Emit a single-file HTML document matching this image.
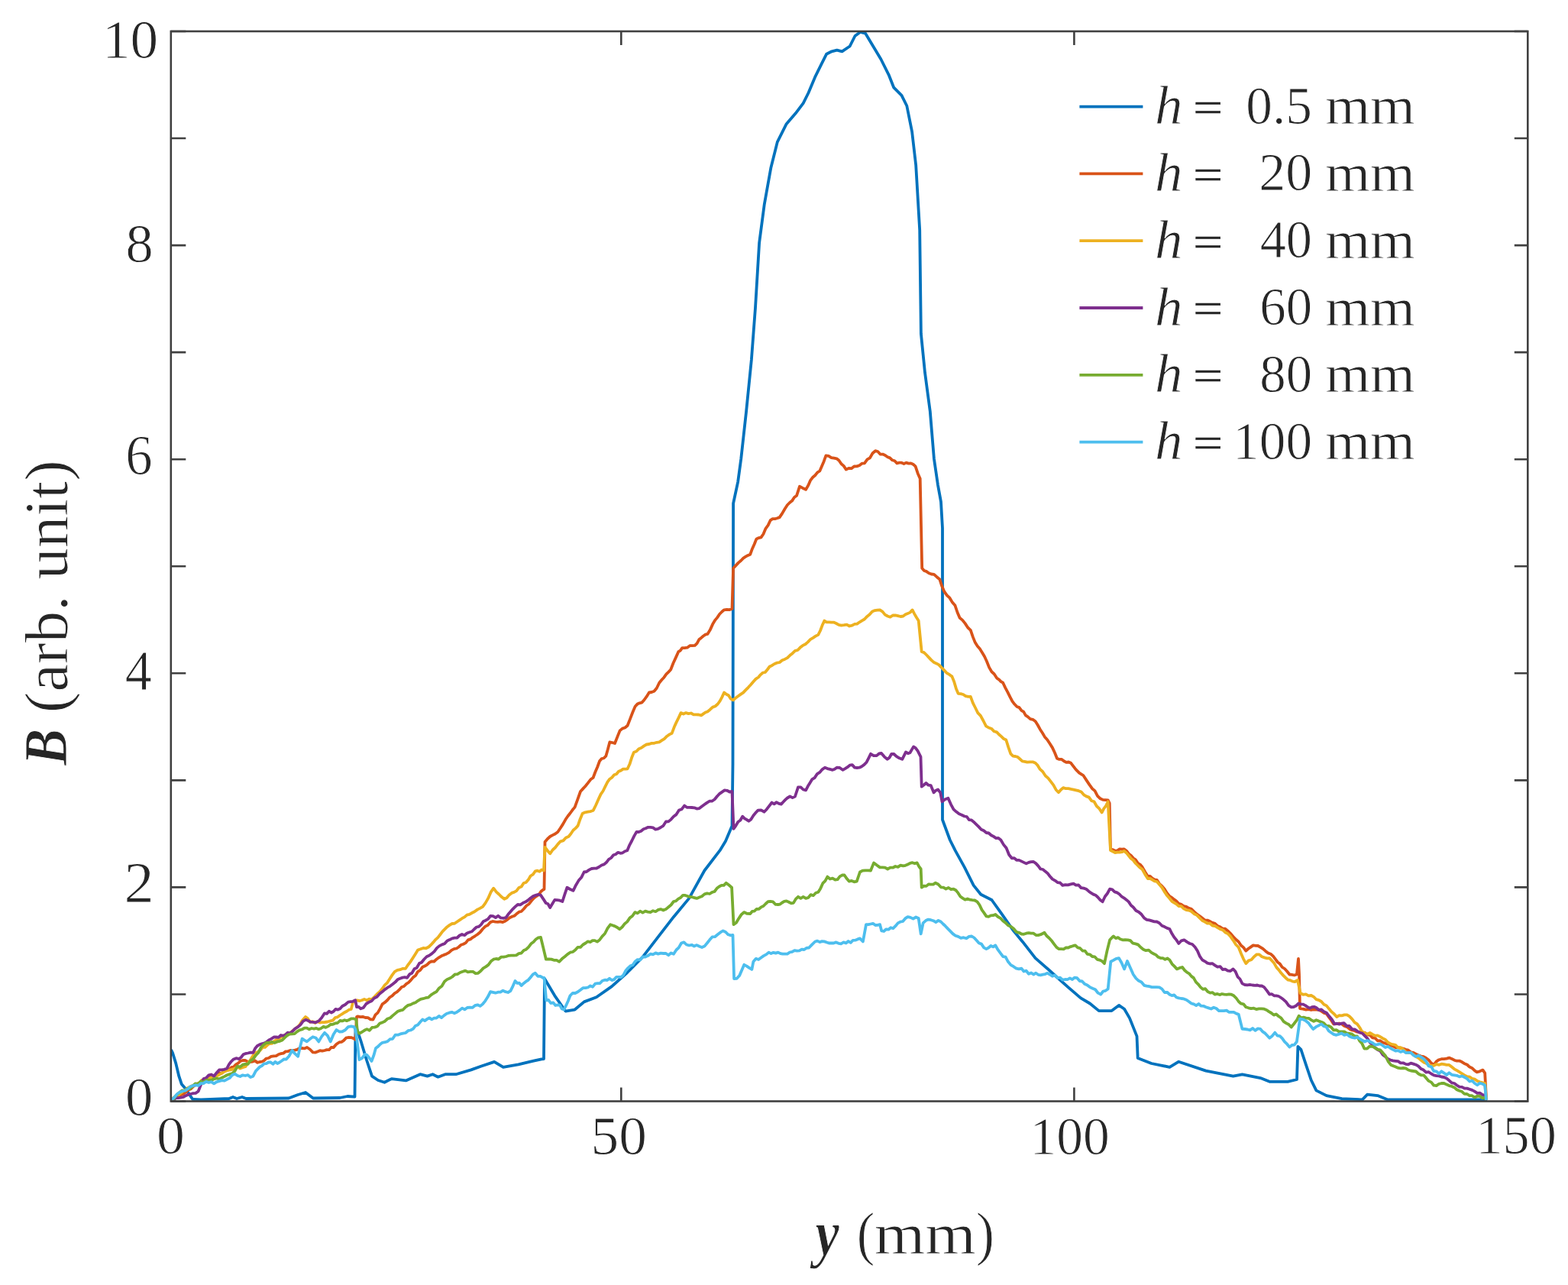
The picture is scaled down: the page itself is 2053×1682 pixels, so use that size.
<!DOCTYPE html>
<html><head><meta charset="utf-8"><style>html,body{margin:0;padding:0;background:#fff;overflow:hidden}svg{display:block}</style></head>
<body><svg width="2053" height="1682" viewBox="0 0 2053 1682">
<defs><clipPath id="cp"><rect x="223.8" y="39.0" width="1776.5" height="1402.5"/></clipPath></defs>
<rect width="2053" height="1682" fill="#fff"/>
<g clip-path="url(#cp)"><path d="M224.0,1374.0 226.0,1378.0 230.2,1391.6 234.3,1408.7 237.7,1418.9 242.5,1424.4 248.0,1432.6 252.1,1438.8 263.0,1439.4 300.0,1438.0 305.0,1436.0 310.0,1438.0 317.0,1436.0 322.0,1438.0 378.0,1437.5 390.0,1433.0 400.0,1430.0 410.0,1437.5 445.0,1437.0 455.0,1435.0 464.5,1435.6 465.5,1345.0 467.0,1346.0 472.3,1362.0 480.0,1387.5 487.0,1408.6 495.0,1414.0 503.4,1416.8 512.7,1412.1 531.4,1414.4 550.1,1406.2 559.5,1408.6 566.5,1406.2 573.5,1409.7 582.9,1406.2 596.9,1406.2 616.8,1400.4 629.6,1395.7 647.2,1389.9 658.9,1396.9 678.7,1393.4 698.6,1388.7 709.1,1386.4 712.0,1386.0 713.0,1281.0 726.3,1303.3 740.4,1323.5 752.6,1321.5 764.7,1311.4 780.9,1305.3 801.1,1291.1 821.3,1273.0 841.5,1252.7 861.7,1226.4 882.0,1200.2 902.2,1175.9 922.4,1139.5 942.6,1113.2 950.0,1101.0 958.5,1081.0 959.5,1000.0 960.1,659.0 966.2,630.6 970.3,600.2 977.1,538.5 983.9,470.7 989.0,402.9 994.1,318.1 1000.8,267.3 1009.3,219.8 1017.8,185.9 1029.7,162.2 1041.5,148.6 1051.7,135.1 1058.5,121.5 1067.0,101.2 1075.4,84.2 1082.2,70.7 1089.0,67.3 1095.8,65.6 1102.5,67.3 1112.7,60.5 1119.5,47.0 1126.3,41.9 1133.0,43.6 1143.2,60.5 1153.4,77.5 1163.6,97.8 1170.3,114.7 1180.5,124.9 1187.3,138.5 1194.1,172.4 1199.2,216.4 1204.2,301.2 1205.9,436.8 1211.0,487.6 1217.8,538.5 1222.9,600.2 1228.0,635.0 1232.0,656.9 1234.0,691.3 1234.0,1073.0 1243.8,1099.5 1250.9,1113.7 1262.8,1135.1 1274.7,1158.9 1284.2,1170.8 1298.5,1178.0 1310.4,1194.6 1327.0,1218.4 1338.9,1232.7 1355.6,1254.1 1374.6,1270.7 1398.4,1292.1 1415.0,1306.4 1427.0,1313.5 1438.8,1323.1 1455.5,1323.1 1465.0,1315.9 1472.1,1320.7 1479.0,1332.6 1488.5,1356.4 1489.7,1384.9 1507.6,1392.0 1531.4,1396.8 1543.3,1389.7 1578.9,1401.6 1614.6,1408.7 1626.5,1406.3 1650.3,1411.1 1662.2,1415.8 1686.0,1415.8 1698.0,1413.0 1699.4,1369.9 1703.4,1373.9 1710.0,1393.9 1716.8,1414.0 1723.4,1427.4 1736.8,1434.1 1756.9,1438.1 1783.7,1439.4 1790.3,1432.7 1803.7,1434.1 1817.1,1439.4 1947.0,1439.4" stroke="#0072BD" stroke-width="3.8" fill="none" stroke-linejoin="round"/><path d="M224.0,1440.0 227.2,1438.2 230.4,1435.6 233.6,1436.0 236.8,1433.1 240.0,1432.0 243.3,1429.4 246.7,1426.6 250.0,1425.2 253.3,1421.9 256.7,1419.4 260.0,1418.0 263.3,1416.2 266.7,1414.8 270.0,1412.2 273.3,1411.5 276.7,1409.3 280.0,1408.0 283.3,1407.8 286.7,1404.4 290.0,1405.1 293.3,1402.5 296.7,1401.3 300.0,1400.0 303.0,1397.2 305.9,1396.5 308.9,1393.3 311.9,1391.6 314.8,1388.9 317.8,1388.0 321.0,1387.9 324.1,1389.7 327.3,1390.0 330.5,1389.7 333.7,1388.2 336.8,1390.8 340.0,1390.0 342.9,1389.6 345.8,1388.2 348.7,1385.5 351.6,1385.0 355.0,1382.8 358.3,1382.3 361.6,1382.2 365.0,1380.0 368.0,1379.2 371.0,1378.6 374.0,1376.4 377.0,1376.1 380.0,1375.0 383.0,1374.9 386.0,1374.6 389.0,1373.9 392.0,1372.0 395.0,1372.0 398.5,1372.4 402.0,1371.0 405.8,1373.5 409.6,1377.3 412.7,1377.6 415.8,1376.5 418.8,1375.2 421.9,1375.7 425.0,1375.0 427.9,1374.1 430.8,1374.2 433.7,1371.0 436.6,1371.1 440.5,1366.8 444.3,1364.2 447.2,1363.8 450.1,1361.9 453.0,1358.7 455.9,1358.0 459.8,1358.1 463.6,1359.6 465.3,1360.8 467.0,1331.0 468.3,1330.4 471.7,1331.2 475.0,1330.9 478.4,1332.0 481.8,1332.1 485.1,1334.3 488.5,1334.5 491.5,1328.4 494.6,1325.6 497.6,1320.4 500.6,1314.3 503.8,1312.2 507.1,1309.3 510.3,1305.5 513.6,1303.4 516.8,1300.1 519.8,1298.4 522.9,1295.4 525.9,1292.0 528.9,1291.0 532.0,1287.9 535.0,1286.0 538.0,1282.9 541.1,1279.1 544.1,1277.0 547.1,1271.8 550.2,1269.8 553.2,1265.8 556.2,1264.6 559.3,1262.6 562.3,1259.7 565.3,1258.3 568.4,1258.5 571.4,1255.7 574.7,1253.3 578.0,1251.3 581.3,1249.9 584.5,1248.7 587.8,1246.9 591.1,1243.9 594.4,1242.1 597.7,1241.5 600.7,1239.5 603.8,1236.7 606.8,1235.7 609.8,1234.1 612.8,1230.4 615.9,1229.4 618.9,1227.1 621.9,1225.3 625.3,1223.0 628.6,1220.3 632.0,1216.0 635.4,1212.6 638.7,1211.0 642.1,1207.1 645.3,1206.0 648.6,1206.7 651.8,1206.8 655.1,1206.3 658.3,1207.1 661.3,1205.8 664.4,1203.6 667.4,1201.2 670.5,1199.8 673.5,1198.7 676.5,1196.1 679.6,1193.7 682.6,1193.0 686.0,1189.5 689.3,1185.5 692.7,1183.2 696.1,1178.8 699.4,1175.3 702.8,1172.8 705.5,1171.0 708.2,1167.0 710.9,1164.7 712.5,1164.0 713.5,1102.0 716.9,1098.0 720.2,1095.0 723.6,1093.1 726.9,1091.5 730.3,1089.0 733.7,1084.0 737.0,1078.9 740.4,1072.8 743.5,1068.2 746.5,1064.5 749.5,1060.3 752.6,1056.6 756.3,1046.3 760.0,1036.0 763.3,1032.4 766.7,1028.7 770.0,1024.6 773.3,1020.3 776.6,1018.0 779.4,1010.5 782.2,1004.0 785.0,996.3 787.8,993.0 790.5,992.5 793.3,989.7 795.8,981.0 798.3,971.4 801.6,972.0 805.0,973.0 808.3,964.6 811.6,956.4 814.9,953.6 818.3,952.5 821.6,949.7 824.9,941.4 828.3,932.5 831.6,924.8 834.5,921.6 837.4,920.3 840.3,919.6 843.2,916.5 846.5,911.9 849.9,906.5 853.2,906.0 856.5,904.8 859.8,900.8 863.2,893.7 866.5,889.8 869.4,886.7 872.4,882.4 875.3,879.6 878.2,876.5 881.5,868.0 884.9,860.6 888.2,853.2 890.7,851.7 893.2,848.2 896.5,848.1 899.8,847.7 903.2,845.2 906.5,845.1 909.8,844.9 912.6,842.2 915.3,837.1 918.1,834.9 920.9,832.5 923.6,830.6 926.4,829.9 929.7,824.6 933.1,817.1 936.4,811.6 939.3,808.1 942.2,803.8 945.2,800.7 948.1,798.3 951.6,797.9 955.0,798.1 958.5,797.0 960.1,743.8 963.5,740.1 966.8,736.6 970.2,733.7 973.2,730.6 976.2,728.7 979.3,726.9 982.3,725.7 985.0,718.2 987.7,712.3 990.4,705.4 993.5,704.1 996.5,703.4 999.5,699.0 1002.5,691.8 1005.6,687.6 1008.6,681.2 1011.6,679.2 1014.7,679.2 1017.7,678.2 1020.7,677.1 1024.1,672.1 1027.5,666.2 1030.9,661.0 1033.9,658.0 1037.0,655.6 1040.0,651.0 1043.0,648.8 1047.0,636.7 1049.7,638.1 1052.4,639.6 1055.1,640.8 1058.2,635.4 1061.2,628.6 1064.2,624.8 1067.2,622.3 1070.3,618.4 1073.3,616.5 1076.0,610.2 1078.7,603.9 1081.4,596.3 1084.9,596.9 1088.5,599.1 1092.0,599.7 1095.5,600.3 1098.5,602.7 1101.6,607.3 1104.7,609.9 1107.7,614.5 1111.2,613.0 1114.8,613.2 1118.3,610.5 1121.8,610.4 1125.2,609.2 1128.5,606.7 1131.9,606.4 1135.5,601.4 1139.0,599.4 1142.5,593.3 1146.1,590.2 1149.3,591.0 1152.5,594.5 1155.8,594.6 1159.0,596.0 1162.2,598.3 1165.2,599.4 1168.3,602.3 1171.4,603.3 1174.4,606.4 1177.4,605.7 1180.5,605.7 1183.5,607.0 1186.5,605.6 1189.6,606.6 1192.6,606.4 1195.6,607.8 1198.6,610.4 1201.7,619.7 1204.7,626.6 1207.2,743.8 1210.0,747.0 1212.8,747.9 1216.2,750.3 1219.5,751.5 1222.9,751.9 1226.6,755.2 1230.3,758.2 1233.3,767.3 1236.4,774.4 1239.9,779.3 1243.5,782.7 1247.0,788.6 1250.5,792.6 1253.5,801.5 1256.6,808.7 1260.1,811.6 1263.7,816.1 1267.2,821.5 1270.8,824.9 1273.8,833.6 1276.8,841.1 1279.8,845.8 1282.9,849.3 1286.0,854.2 1289.0,859.3 1292.0,865.7 1295.0,873.4 1298.4,879.3 1301.7,882.2 1305.1,887.6 1307.8,889.3 1310.5,892.1 1313.2,893.7 1316.2,900.1 1319.3,905.9 1322.4,912.2 1325.4,917.9 1328.4,921.8 1331.5,925.0 1334.5,926.1 1337.5,930.1 1340.2,931.6 1342.9,936.4 1345.6,938.1 1349.0,941.1 1352.3,941.8 1355.7,944.2 1358.7,949.0 1361.8,954.7 1364.8,959.2 1367.8,964.4 1371.2,968.2 1374.5,973.3 1377.9,978.6 1381.0,985.2 1384.0,992.7 1387.0,993.9 1390.1,993.9 1393.1,996.3 1396.1,997.9 1399.2,997.5 1402.2,998.8 1404.9,1002.3 1407.6,1005.9 1410.3,1008.9 1413.0,1011.6 1415.7,1013.3 1418.4,1015.0 1422.4,1021.1 1426.4,1027.1 1430.0,1032.2 1433.5,1035.1 1437.0,1041.8 1440.6,1045.3 1444.0,1046.9 1447.3,1047.1 1450.7,1047.3 1452.7,1051.4 1454.0,1112.0 1457.0,1112.1 1460.0,1113.7 1463.0,1113.4 1466.0,1111.4 1468.9,1111.7 1471.9,1111.4 1474.9,1113.7 1477.8,1117.5 1480.8,1119.7 1483.8,1123.3 1486.8,1125.3 1489.8,1129.9 1492.7,1131.6 1495.7,1135.1 1499.2,1141.2 1502.8,1147.0 1505.8,1147.0 1508.8,1149.6 1511.7,1151.3 1514.7,1151.8 1518.0,1156.8 1521.4,1159.9 1524.7,1163.7 1528.1,1169.2 1531.4,1173.2 1534.4,1175.1 1537.3,1177.4 1540.3,1179.6 1543.3,1182.7 1546.6,1183.9 1549.9,1186.0 1553.3,1186.8 1556.6,1188.8 1559.9,1189.9 1563.5,1193.4 1567.1,1196.6 1570.6,1199.0 1574.2,1201.8 1577.5,1204.4 1580.8,1204.6 1584.2,1206.1 1587.5,1207.9 1590.8,1208.9 1594.1,1211.9 1597.5,1213.2 1600.8,1215.6 1604.2,1215.7 1607.5,1218.4 1611.0,1221.8 1614.6,1226.0 1618.2,1229.7 1621.7,1232.7 1624.9,1237.5 1628.1,1240.1 1631.3,1244.6 1634.5,1241.8 1637.6,1239.6 1640.8,1237.4 1644.0,1237.9 1647.1,1238.0 1650.3,1239.8 1653.6,1241.9 1657.0,1244.9 1660.3,1247.5 1663.7,1248.7 1667.0,1251.7 1670.0,1255.6 1672.9,1259.5 1675.8,1261.6 1678.8,1266.0 1682.0,1268.0 1685.2,1271.5 1688.4,1275.5 1691.6,1275.9 1694.7,1276.5 1697.9,1275.5 1700.0,1255.0 1701.0,1275.0 1702.0,1320.0 1706.0,1320.6 1710.0,1321.7 1713.3,1321.2 1716.7,1322.0 1720.1,1321.3 1723.4,1321.7 1726.8,1321.9 1730.1,1323.7 1733.5,1325.9 1736.8,1327.0 1739.9,1331.4 1743.1,1335.6 1746.2,1340.4 1749.8,1340.1 1753.3,1339.5 1756.9,1340.4 1760.2,1343.0 1763.6,1344.1 1767.0,1346.9 1770.3,1348.4 1773.7,1349.2 1777.0,1350.7 1780.3,1351.1 1783.7,1351.1 1787.0,1351.9 1790.4,1354.3 1793.7,1355.0 1797.1,1358.4 1800.4,1358.8 1803.7,1362.3 1807.1,1362.2 1810.4,1364.5 1813.8,1365.6 1817.1,1366.7 1820.5,1368.6 1823.8,1369.2 1827.2,1371.0 1830.5,1371.2 1833.8,1371.9 1837.2,1372.5 1840.5,1373.8 1843.9,1374.6 1847.2,1377.3 1850.6,1377.9 1853.9,1379.7 1857.2,1381.2 1860.6,1382.5 1863.9,1383.2 1867.2,1385.0 1870.6,1387.5 1874.0,1391.6 1877.3,1393.9 1880.7,1389.4 1884.0,1387.2 1887.3,1386.2 1890.7,1386.1 1894.1,1385.6 1897.4,1384.6 1900.8,1385.9 1904.1,1387.7 1907.5,1388.7 1910.8,1388.6 1914.1,1390.1 1917.4,1392.2 1920.8,1393.5 1924.1,1396.6 1927.2,1397.9 1930.4,1400.9 1933.5,1403.3 1937.5,1402.3 1941.5,1400.6 1944.2,1404.6 1946.0,1438.0" stroke="#D95319" stroke-width="3.8" fill="none" stroke-linejoin="round"/><path d="M224.0,1440.0 227.2,1436.9 230.4,1434.2 233.6,1433.3 236.8,1430.8 240.0,1428.0 243.0,1426.4 246.0,1423.9 249.0,1422.4 252.0,1421.0 255.0,1420.0 258.0,1419.3 261.0,1417.9 264.0,1414.0 267.0,1414.7 270.0,1412.0 273.3,1411.9 276.7,1410.4 280.0,1407.8 283.3,1408.5 286.7,1407.0 290.0,1405.0 293.5,1402.7 297.0,1401.2 300.5,1400.7 304.0,1399.9 307.5,1398.4 310.9,1396.6 314.4,1398.5 317.8,1397.3 321.2,1396.3 324.6,1391.8 328.0,1387.1 331.5,1381.5 334.9,1378.0 337.9,1376.6 340.9,1374.6 344.0,1370.8 347.0,1370.8 350.0,1368.0 353.0,1366.0 356.0,1365.9 359.0,1362.8 362.0,1360.9 365.0,1360.0 368.0,1357.6 371.0,1356.4 374.0,1354.1 377.0,1352.7 380.0,1352.0 383.0,1349.4 386.0,1347.1 389.0,1344.6 392.0,1342.0 396.0,1335.5 400.0,1331.0 403.0,1333.3 406.0,1338.0 409.2,1337.1 412.3,1339.0 415.5,1337.1 418.7,1338.5 421.8,1338.1 425.0,1338.0 428.9,1337.5 432.7,1336.4 435.8,1335.7 438.9,1332.0 442.0,1331.3 445.1,1329.0 448.2,1327.1 451.1,1325.2 454.0,1323.7 456.9,1321.7 459.8,1320.9 462.0,1312.0 464.8,1309.6 467.5,1309.3 470.7,1310.2 473.8,1309.3 477.0,1307.9 480.2,1309.4 483.3,1307.6 486.5,1308.2 490.0,1305.1 493.6,1301.3 497.1,1298.3 500.6,1294.0 503.8,1289.3 507.1,1286.3 510.3,1281.2 513.6,1276.1 516.8,1271.8 520.3,1269.8 523.9,1269.2 527.5,1267.8 531.0,1267.8 534.2,1263.0 537.4,1258.9 540.7,1253.8 543.9,1248.7 547.1,1243.5 550.6,1242.3 554.2,1240.9 557.8,1241.3 561.3,1239.5 564.3,1236.7 567.3,1233.4 570.4,1229.8 573.4,1227.1 576.4,1223.3 579.5,1219.2 582.5,1216.2 585.5,1213.2 588.7,1210.9 592.0,1209.0 595.2,1208.8 598.5,1206.5 601.7,1204.4 604.9,1202.2 608.2,1200.4 611.4,1197.6 614.7,1196.8 617.9,1195.0 621.4,1193.2 625.0,1190.6 628.5,1188.9 632.0,1186.9 635.5,1182.1 639.1,1175.9 642.7,1167.7 646.2,1162.7 649.7,1167.4 653.2,1170.5 656.8,1174.1 660.3,1176.8 663.5,1175.3 666.7,1171.4 669.9,1168.9 673.0,1167.9 676.2,1166.1 679.4,1161.9 682.6,1160.6 685.6,1156.0 688.7,1155.0 691.7,1151.6 694.7,1146.5 697.8,1144.6 700.8,1140.4 703.6,1139.7 706.4,1140.8 709.2,1138.5 712.0,1139.5 713.5,1109.0 716.9,1113.4 720.2,1117.3 723.6,1112.5 726.9,1109.5 730.3,1105.1 733.8,1101.3 737.4,1100.4 741.0,1096.5 744.5,1095.0 747.5,1091.3 750.5,1086.8 753.6,1084.1 756.6,1080.9 759.7,1071.9 762.7,1064.7 766.2,1063.3 769.8,1062.6 773.3,1062.1 776.8,1060.7 780.1,1054.0 783.3,1046.7 786.6,1039.6 789.5,1035.5 792.5,1029.4 795.4,1023.7 798.3,1019.7 801.2,1017.7 804.1,1014.3 807.1,1013.3 810.0,1009.7 812.9,1008.6 815.8,1006.7 818.7,1006.7 821.6,1006.3 824.4,1000.3 827.1,991.8 829.9,984.7 833.2,983.5 836.5,980.2 839.9,978.8 843.2,976.4 846.5,974.5 849.9,974.0 853.2,972.9 856.5,972.8 859.9,971.8 863.2,971.4 866.5,969.2 869.8,967.1 873.2,963.7 876.5,961.4 879.8,959.7 882.7,951.8 885.6,945.4 888.6,939.4 891.5,933.1 894.8,934.6 898.1,933.1 901.5,934.1 904.8,933.5 908.1,935.4 911.5,935.4 914.8,935.5 918.1,936.4 920.9,934.4 923.6,932.5 926.4,931.4 929.8,928.7 933.1,925.6 936.4,924.5 939.8,921.5 942.6,917.6 945.3,912.6 948.1,906.5 951.0,908.7 953.9,910.2 956.8,914.7 959.7,916.5 963.0,913.7 966.4,911.3 969.7,908.9 973.1,906.6 976.4,903.1 979.7,899.8 983.0,896.3 986.4,892.2 989.7,888.6 993.0,886.5 995.9,883.1 998.9,880.5 1001.8,880.0 1004.7,876.5 1007.7,872.5 1010.6,871.2 1014.0,869.0 1017.4,867.6 1020.8,867.0 1024.1,864.2 1027.5,862.9 1030.9,861.1 1034.3,857.8 1037.6,855.2 1041.0,851.9 1044.4,851.0 1047.7,847.6 1051.1,844.9 1054.5,843.2 1057.8,840.4 1061.2,836.8 1064.6,834.9 1067.9,832.7 1071.3,830.8 1074.0,825.5 1076.7,818.3 1079.4,812.6 1082.4,814.3 1085.5,814.4 1088.5,814.6 1091.5,814.6 1094.9,816.0 1098.2,817.8 1101.6,818.6 1105.1,818.2 1108.7,817.6 1112.2,819.5 1115.8,818.6 1119.0,816.9 1122.2,816.6 1125.5,814.3 1128.7,812.3 1131.9,810.5 1135.3,806.9 1138.6,804.3 1142.0,800.4 1145.4,799.1 1148.7,798.7 1152.1,798.4 1155.5,800.6 1158.8,804.6 1162.2,806.5 1165.6,807.7 1169.0,805.5 1172.3,805.3 1175.7,806.1 1179.1,807.0 1182.5,806.5 1185.5,804.3 1188.5,803.1 1191.6,801.6 1194.6,798.4 1197.3,803.6 1200.0,808.3 1202.7,812.6 1206.7,853.0 1209.8,854.1 1212.8,857.0 1216.2,860.6 1219.5,864.1 1222.9,867.1 1226.0,868.4 1229.2,870.1 1232.3,873.4 1235.8,876.9 1239.4,880.8 1243.0,882.9 1246.5,885.6 1249.2,892.2 1251.9,901.4 1254.6,907.8 1257.8,908.1 1261.1,909.0 1264.3,911.1 1267.6,911.8 1270.8,911.9 1273.8,920.1 1276.8,926.0 1280.3,933.1 1283.9,936.9 1287.5,943.5 1291.0,950.3 1294.5,952.5 1298.0,953.7 1301.6,957.3 1305.1,958.4 1308.1,961.5 1311.2,964.1 1314.2,967.1 1317.3,968.5 1320.3,978.1 1323.3,986.7 1326.3,989.6 1329.4,990.0 1332.4,990.8 1335.4,993.5 1338.5,996.3 1341.5,996.8 1345.0,997.6 1348.6,997.3 1352.2,997.3 1355.7,998.8 1358.7,1001.9 1361.7,1006.9 1365.2,1010.0 1368.8,1015.5 1372.4,1018.6 1375.9,1023.1 1379.3,1027.6 1382.6,1033.7 1386.0,1037.2 1389.0,1033.7 1392.1,1031.1 1395.5,1032.2 1398.8,1032.1 1402.2,1032.9 1405.6,1033.6 1408.9,1034.4 1412.3,1035.2 1415.7,1036.6 1419.0,1040.3 1422.4,1042.4 1425.8,1043.6 1429.1,1048.2 1432.5,1049.3 1435.9,1055.3 1439.2,1058.2 1442.6,1063.5 1445.3,1058.4 1448.0,1054.8 1450.7,1049.3 1454.0,1113.0 1457.0,1114.5 1460.0,1116.0 1463.0,1115.7 1466.0,1115.7 1468.9,1115.2 1471.9,1114.0 1474.9,1116.4 1477.8,1120.0 1480.8,1123.8 1483.8,1126.0 1486.8,1130.0 1489.8,1133.0 1492.7,1135.8 1495.7,1138.0 1499.2,1144.4 1502.8,1150.0 1505.8,1149.8 1508.8,1151.7 1511.7,1153.5 1514.7,1154.0 1518.0,1157.7 1521.4,1161.7 1524.7,1167.4 1528.1,1172.3 1531.4,1176.0 1534.4,1179.8 1537.3,1181.6 1540.3,1183.4 1543.3,1186.0 1546.6,1186.2 1549.9,1189.3 1553.3,1191.2 1556.6,1191.6 1559.9,1193.0 1563.5,1196.2 1567.1,1197.9 1570.6,1201.5 1574.2,1205.0 1577.5,1206.6 1580.8,1208.6 1584.2,1208.7 1587.5,1211.5 1590.8,1212.0 1594.1,1214.2 1597.5,1216.1 1600.8,1217.2 1604.2,1220.5 1607.5,1222.0 1611.0,1225.6 1614.6,1230.8 1618.2,1236.5 1621.7,1240.0 1624.9,1248.0 1628.1,1255.3 1631.3,1261.2 1634.8,1257.4 1638.4,1256.3 1642.0,1252.2 1645.5,1249.3 1648.8,1249.4 1652.2,1252.3 1655.5,1253.4 1658.9,1254.4 1662.2,1254.1 1665.3,1257.5 1668.3,1260.8 1671.4,1266.4 1674.4,1269.6 1677.5,1273.8 1680.5,1277.1 1683.6,1280.2 1686.6,1282.7 1689.5,1283.2 1692.5,1284.6 1695.5,1285.0 1699.0,1283.0 1702.6,1300.0 1706.1,1301.8 1709.7,1301.3 1713.2,1303.3 1716.8,1303.0 1720.1,1304.8 1723.4,1308.2 1726.8,1309.1 1730.1,1311.0 1733.4,1314.7 1736.8,1316.4 1740.2,1320.6 1743.5,1324.4 1746.8,1327.2 1750.2,1331.1 1753.5,1329.2 1756.9,1329.3 1760.2,1328.4 1763.6,1328.4 1766.9,1330.4 1770.3,1333.8 1773.7,1338.3 1777.0,1340.4 1780.3,1345.0 1783.7,1351.1 1787.0,1352.3 1790.3,1353.7 1793.7,1351.8 1797.0,1353.8 1800.3,1355.7 1803.7,1355.5 1807.1,1357.0 1810.4,1359.2 1813.8,1360.7 1817.1,1364.3 1820.5,1366.2 1823.8,1367.2 1827.1,1367.8 1830.5,1371.3 1833.8,1371.1 1837.2,1373.5 1840.5,1376.9 1843.9,1378.2 1847.2,1377.9 1850.6,1380.6 1853.9,1383.0 1857.3,1384.8 1860.6,1387.7 1863.9,1390.4 1867.3,1391.8 1870.6,1393.9 1873.9,1395.0 1877.3,1394.9 1880.7,1393.0 1884.0,1393.9 1887.3,1392.7 1890.7,1393.1 1894.1,1393.9 1897.4,1393.9 1900.8,1396.6 1904.1,1399.3 1907.5,1401.2 1910.8,1403.2 1914.2,1405.3 1917.5,1407.3 1920.8,1409.1 1924.2,1409.7 1927.5,1411.8 1930.8,1412.7 1934.2,1414.9 1937.5,1416.3 1940.8,1417.2 1944.2,1418.0 1946.0,1440.0" stroke="#EDB120" stroke-width="3.8" fill="none" stroke-linejoin="round"/><path d="M224.0,1440.0 227.2,1439.7 230.4,1437.1 233.6,1437.1 236.8,1436.7 240.0,1436.0 243.2,1434.2 246.4,1432.7 249.6,1432.0 252.8,1431.2 256.2,1430.9 259.6,1428.5 263.1,1419.6 266.5,1412.0 269.9,1411.0 273.3,1407.3 276.7,1406.5 280.1,1408.7 283.6,1404.3 287.0,1400.4 290.4,1400.4 293.8,1399.8 297.2,1398.4 299.9,1393.1 302.7,1389.5 305.4,1386.8 309.2,1385.2 313.0,1386.1 315.7,1384.0 318.5,1380.3 321.2,1379.2 324.6,1378.5 328.0,1377.7 331.4,1377.9 334.1,1372.3 336.9,1369.0 339.8,1367.4 342.7,1366.4 345.6,1365.6 348.5,1364.2 352.0,1361.4 355.5,1359.6 358.6,1357.5 361.7,1357.5 364.7,1357.8 367.8,1355.0 370.9,1355.7 373.8,1354.4 376.7,1351.6 379.6,1352.7 382.5,1350.3 386.4,1346.3 390.2,1344.1 393.6,1341.1 396.9,1336.7 400.3,1334.8 403.4,1336.0 406.5,1337.7 409.6,1337.9 413.5,1338.4 417.3,1336.4 421.1,1332.2 425.0,1326.3 427.9,1326.9 430.8,1323.7 433.7,1325.5 436.6,1324.0 439.5,1320.9 442.4,1321.6 445.3,1320.2 448.2,1317.0 452.0,1315.0 455.9,1311.6 459.0,1311.2 462.1,1310.8 465.2,1309.3 467.0,1318.0 469.6,1317.9 472.3,1320.3 475.9,1318.9 479.4,1314.0 482.9,1311.9 486.5,1310.2 490.0,1306.5 493.6,1304.7 497.1,1300.8 500.6,1298.1 504.0,1295.1 507.4,1292.7 510.8,1290.8 514.1,1288.3 517.5,1285.6 520.9,1281.9 523.9,1280.7 527.0,1279.6 530.0,1279.2 533.0,1279.9 536.2,1275.3 539.3,1273.7 542.5,1268.3 545.7,1266.8 548.9,1261.1 552.0,1259.7 555.2,1255.7 558.6,1252.2 561.9,1250.7 565.3,1248.4 568.7,1245.4 572.0,1240.9 575.4,1238.1 578.8,1236.4 582.1,1235.3 585.5,1231.4 588.7,1230.1 592.0,1228.3 595.2,1227.7 598.5,1227.5 601.7,1224.5 604.9,1223.0 608.2,1224.2 611.4,1221.5 614.7,1220.3 617.9,1219.3 620.9,1216.2 624.0,1213.5 627.0,1212.8 630.0,1210.1 633.0,1205.9 636.0,1204.7 639.1,1202.8 642.1,1199.0 645.5,1199.1 648.9,1201.1 652.2,1198.8 655.6,1201.4 659.0,1201.8 662.4,1201.1 665.4,1196.8 668.5,1193.3 671.5,1189.8 674.5,1186.9 677.9,1184.0 681.2,1184.3 684.6,1182.1 688.0,1180.6 691.3,1178.4 694.7,1175.5 698.1,1173.1 701.4,1171.9 704.8,1170.8 708.1,1171.9 712.1,1177.9 714.8,1182.1 717.5,1183.2 720.2,1188.0 723.2,1183.1 726.3,1177.9 729.7,1178.1 733.0,1178.7 736.4,1180.0 739.5,1170.4 742.5,1161.7 746.5,1164.0 750.5,1165.8 754.0,1158.7 757.6,1152.6 761.2,1148.6 764.7,1141.5 768.0,1141.0 771.3,1138.6 774.6,1137.0 777.9,1136.7 781.1,1136.5 784.4,1134.8 787.7,1132.5 791.0,1131.4 794.0,1128.8 797.0,1124.9 800.1,1123.0 803.1,1119.3 806.1,1118.3 809.2,1115.8 812.2,1116.8 815.2,1116.3 818.3,1114.2 821.3,1113.2 824.3,1106.1 827.3,1100.5 830.4,1094.1 833.4,1089.0 836.4,1089.0 839.5,1087.7 842.5,1085.3 845.5,1084.3 848.6,1082.8 851.6,1082.9 855.0,1083.4 858.3,1085.7 861.7,1084.9 865.1,1083.0 868.5,1080.8 871.9,1075.5 875.2,1075.4 878.6,1072.6 882.0,1068.7 885.5,1066.1 889.0,1060.5 892.6,1059.2 896.1,1054.6 899.3,1056.8 902.6,1056.9 905.8,1057.0 909.1,1057.3 912.3,1058.6 915.7,1058.1 919.0,1055.5 922.4,1053.0 925.8,1050.6 929.1,1048.7 932.5,1048.5 935.7,1046.3 939.0,1042.2 942.2,1038.9 945.5,1036.6 948.7,1034.4 952.0,1034.8 955.2,1036.5 958.5,1036.0 960.5,1084.9 963.4,1080.8 966.4,1075.7 969.3,1073.7 972.2,1068.7 974.9,1071.3 977.6,1072.9 980.3,1074.8 983.3,1072.4 986.4,1067.4 989.5,1063.8 992.5,1060.6 996.5,1060.3 1000.5,1062.7 1003.9,1059.2 1007.2,1054.9 1010.6,1050.5 1013.6,1052.4 1016.7,1050.1 1019.8,1051.8 1022.8,1052.6 1025.5,1049.7 1028.2,1046.9 1030.9,1044.5 1034.3,1042.5 1037.6,1044.1 1041.0,1042.5 1045.0,1030.3 1048.4,1030.3 1051.7,1033.5 1055.1,1034.4 1057.8,1029.1 1060.5,1024.7 1063.2,1020.2 1066.6,1018.1 1069.9,1013.1 1073.3,1010.9 1076.6,1007.1 1080.0,1004.7 1083.4,1006.1 1086.7,1006.9 1090.1,1007.8 1092.8,1006.8 1095.6,1004.7 1099.5,1005.0 1103.4,1007.8 1106.5,1006.1 1109.6,1004.2 1112.7,1001.6 1115.8,1001.1 1119.0,1004.6 1122.1,1005.0 1125.2,1004.7 1128.3,1003.2 1131.5,1000.9 1134.6,997.7 1137.3,992.3 1140.0,986.8 1143.9,989.2 1147.8,989.1 1150.9,986.5 1154.0,986.0 1157.9,990.6 1161.8,993.8 1164.5,991.7 1167.3,986.8 1170.4,987.0 1173.5,989.9 1177.4,992.3 1181.3,993.8 1186.0,984.4 1188.8,986.2 1191.5,985.2 1196.1,977.4 1198.8,979.1 1201.6,982.9 1205.5,990.7 1206.7,1029.6 1209.6,1027.5 1212.5,1025.0 1215.6,1027.7 1218.7,1028.1 1222.6,1037.4 1225.3,1034.7 1228.1,1033.5 1231.2,1037.4 1233.5,1049.3 1237.5,1046.2 1241.4,1044.8 1245.0,1052.8 1248.5,1059.4 1252.1,1062.6 1255.7,1065.3 1259.2,1066.7 1262.8,1068.5 1265.8,1069.0 1268.8,1073.1 1271.7,1073.3 1274.7,1075.7 1278.0,1078.8 1281.4,1082.1 1284.7,1085.7 1288.1,1087.3 1291.4,1090.0 1294.6,1090.5 1297.7,1093.2 1300.9,1094.9 1304.1,1097.1 1307.2,1097.0 1310.4,1099.5 1314.0,1105.6 1317.6,1110.0 1321.1,1118.8 1324.7,1123.3 1327.9,1123.1 1331.0,1125.8 1334.2,1125.9 1337.4,1127.4 1340.5,1128.9 1343.7,1130.4 1346.9,1128.9 1350.0,1128.1 1353.2,1128.0 1356.3,1130.1 1359.3,1133.4 1362.4,1137.5 1365.4,1138.0 1368.5,1140.6 1371.5,1142.9 1374.6,1147.0 1377.9,1150.6 1381.3,1152.6 1384.6,1155.1 1388.0,1155.5 1391.3,1158.9 1394.8,1158.1 1398.4,1158.3 1402.0,1157.3 1405.5,1156.6 1408.8,1158.7 1412.2,1158.5 1415.5,1162.1 1418.9,1162.6 1422.2,1163.7 1425.3,1166.4 1428.3,1168.7 1431.4,1170.6 1434.4,1171.7 1437.5,1174.5 1440.5,1177.9 1443.6,1180.3 1446.8,1173.5 1449.9,1169.5 1453.1,1163.7 1456.3,1164.3 1459.4,1167.4 1462.6,1168.4 1465.7,1170.5 1468.8,1173.7 1471.9,1175.6 1474.9,1177.9 1477.8,1180.4 1480.8,1185.0 1483.8,1187.5 1487.4,1192.0 1490.9,1193.7 1494.5,1196.8 1498.1,1201.7 1501.4,1203.8 1504.7,1204.4 1508.1,1205.4 1511.4,1206.4 1514.7,1206.5 1518.0,1208.2 1521.4,1211.7 1524.7,1213.1 1528.1,1214.9 1531.4,1216.0 1534.4,1222.1 1537.3,1226.7 1540.3,1230.4 1543.3,1235.0 1546.8,1231.3 1550.4,1230.3 1554.0,1232.9 1557.6,1235.0 1561.1,1236.0 1564.7,1239.8 1567.9,1244.8 1571.0,1251.9 1574.2,1256.5 1577.5,1258.3 1580.8,1260.6 1584.2,1261.5 1587.5,1261.2 1590.8,1263.6 1594.1,1265.7 1597.5,1265.1 1600.8,1269.0 1604.2,1268.7 1607.5,1270.7 1611.0,1271.0 1614.6,1268.4 1617.6,1271.8 1620.5,1278.6 1623.5,1281.5 1626.5,1287.4 1629.8,1289.0 1633.2,1289.3 1636.5,1288.9 1639.9,1289.5 1643.2,1289.8 1646.2,1289.5 1649.2,1290.5 1652.1,1290.5 1655.1,1292.1 1658.7,1296.6 1662.2,1301.7 1665.2,1301.2 1668.2,1303.3 1671.1,1303.4 1674.1,1304.0 1677.3,1306.0 1680.4,1308.3 1683.6,1311.2 1687.2,1316.1 1690.7,1318.3 1693.9,1318.0 1697.0,1316.5 1700.2,1313.5 1703.2,1314.3 1706.2,1314.6 1709.1,1316.1 1712.1,1318.3 1714.9,1319.6 1717.8,1318.2 1720.6,1317.8 1723.4,1319.0 1726.8,1322.0 1730.1,1321.5 1733.5,1324.2 1736.8,1325.7 1740.4,1330.3 1743.9,1334.4 1747.5,1340.4 1750.5,1339.7 1753.5,1340.6 1756.6,1339.6 1759.6,1339.1 1763.2,1342.8 1766.7,1343.0 1770.3,1347.1 1773.7,1347.3 1777.0,1349.6 1780.3,1351.6 1783.7,1352.5 1787.0,1355.9 1790.3,1359.2 1793.7,1364.5 1797.0,1367.2 1800.3,1371.4 1803.7,1373.9 1807.0,1375.4 1810.4,1380.4 1813.8,1383.1 1817.1,1385.9 1820.4,1387.5 1823.8,1388.4 1827.2,1388.8 1830.5,1389.2 1833.8,1391.4 1837.2,1391.3 1840.5,1392.9 1843.9,1393.3 1847.2,1391.7 1850.6,1392.6 1853.9,1393.7 1857.2,1395.7 1860.6,1399.1 1863.9,1400.6 1867.2,1403.7 1870.6,1403.2 1874.0,1405.5 1877.3,1407.3 1880.7,1408.1 1884.0,1408.4 1887.3,1409.5 1890.7,1410.0 1894.0,1411.6 1897.4,1414.3 1900.8,1417.4 1904.1,1418.0 1907.4,1420.5 1910.8,1422.7 1914.2,1422.8 1917.5,1424.7 1920.8,1424.6 1924.2,1425.8 1927.5,1426.9 1930.8,1428.7 1934.2,1430.9 1937.5,1430.6 1940.8,1432.9 1944.2,1434.1 1946.0,1440.0" stroke="#7E2F8E" stroke-width="3.8" fill="none" stroke-linejoin="round"/><path d="M224.0,1440.0 227.7,1438.0 231.3,1433.1 235.0,1430.0 238.3,1427.5 241.7,1427.9 245.0,1425.0 248.5,1425.0 252.0,1422.0 255.7,1418.5 259.3,1418.7 263.0,1415.5 266.4,1416.7 269.9,1414.1 273.3,1414.0 276.7,1414.1 280.1,1412.3 283.5,1411.5 287.0,1412.4 290.4,1410.7 293.8,1409.1 297.2,1407.3 300.7,1406.1 304.1,1405.2 307.5,1401.8 310.9,1395.7 314.3,1396.6 317.8,1393.7 321.2,1392.9 324.6,1392.9 328.0,1388.3 331.5,1386.1 334.9,1381.3 338.3,1378.0 341.7,1371.2 345.1,1367.6 348.6,1365.0 352.0,1365.0 355.7,1363.9 359.5,1365.0 363.2,1363.4 366.4,1362.8 369.6,1361.5 372.9,1358.1 376.1,1355.3 379.3,1353.6 382.5,1353.4 385.7,1353.1 388.9,1350.4 392.1,1348.4 395.4,1347.5 398.6,1345.6 401.8,1345.6 404.9,1347.3 408.0,1346.0 411.1,1346.6 414.2,1345.9 417.3,1347.2 420.4,1346.0 423.5,1343.9 426.5,1344.9 429.6,1343.4 432.7,1341.0 435.8,1340.8 438.9,1339.4 442.0,1339.0 445.1,1336.0 448.2,1336.4 451.1,1335.2 454.0,1336.1 456.9,1335.0 459.8,1333.3 463.1,1333.3 466.3,1334.5 468.0,1350.0 470.3,1352.7 473.7,1351.0 477.0,1348.8 480.4,1347.1 483.8,1348.7 487.1,1344.9 490.5,1344.6 493.9,1343.5 497.3,1339.5 500.6,1338.4 504.0,1336.7 507.4,1333.5 510.8,1332.5 514.2,1329.4 517.5,1326.6 520.9,1323.8 524.3,1322.6 527.6,1321.8 531.0,1318.3 534.3,1315.9 537.5,1315.1 540.8,1313.4 544.1,1312.3 547.4,1309.8 550.7,1307.8 553.9,1307.2 557.2,1306.2 560.8,1305.7 564.3,1302.4 567.9,1300.0 571.4,1298.1 574.9,1293.4 578.5,1290.7 582.0,1284.8 585.5,1281.9 588.9,1280.6 592.3,1278.5 595.6,1275.5 599.0,1275.2 602.4,1273.0 605.8,1271.8 609.2,1270.6 612.5,1272.3 615.9,1271.9 619.3,1271.9 622.6,1274.1 626.0,1273.8 629.4,1271.0 632.7,1267.4 636.1,1265.4 639.5,1262.9 642.8,1258.3 646.2,1255.7 649.5,1255.0 652.8,1255.5 656.1,1252.7 659.4,1252.6 662.7,1252.0 666.1,1250.8 669.4,1250.7 672.7,1250.7 676.0,1250.3 679.3,1248.1 682.6,1247.6 685.8,1244.0 688.9,1242.7 692.1,1239.6 695.3,1235.3 698.5,1233.0 701.6,1229.5 704.8,1227.4 708.0,1227.0 711.5,1241.4 714.9,1255.7 718.4,1255.4 721.9,1255.6 725.3,1256.8 728.8,1256.9 732.3,1258.8 735.8,1255.1 739.4,1252.2 743.0,1249.1 746.5,1246.7 749.9,1246.0 753.2,1243.5 756.6,1239.8 760.0,1239.9 763.3,1236.5 766.7,1234.5 769.7,1232.3 772.8,1233.1 775.8,1231.2 778.8,1231.1 781.9,1232.6 784.9,1230.5 788.5,1225.6 792.0,1222.0 795.5,1215.2 799.1,1210.3 802.1,1211.3 805.2,1212.4 808.2,1214.0 811.2,1216.3 814.6,1213.5 817.9,1209.2 821.3,1206.4 824.7,1201.4 828.0,1199.0 831.4,1194.1 834.8,1195.4 838.1,1192.7 841.5,1194.6 844.9,1192.7 848.2,1193.6 851.6,1194.1 855.0,1192.2 858.4,1193.2 861.8,1190.9 865.1,1190.1 868.5,1191.5 871.9,1190.1 875.3,1187.3 878.6,1184.5 882.0,1180.0 885.0,1179.3 888.0,1176.6 891.1,1175.0 894.1,1171.9 897.1,1171.9 900.2,1173.1 903.2,1174.0 906.2,1174.2 909.3,1175.1 912.3,1175.9 915.7,1174.5 919.0,1173.3 922.4,1170.4 925.8,1169.4 929.1,1170.0 932.5,1167.8 935.5,1167.0 938.6,1162.8 941.6,1160.5 944.6,1158.9 947.7,1158.9 950.7,1155.7 954.4,1158.5 958.1,1161.7 960.5,1210.2 964.0,1207.7 967.4,1202.1 970.8,1196.9 974.3,1194.1 978.3,1195.9 982.3,1196.0 985.0,1192.8 987.7,1192.6 990.4,1190.0 993.4,1189.9 996.5,1187.4 999.5,1186.0 1002.5,1183.0 1005.6,1180.2 1008.6,1179.9 1012.0,1180.4 1015.3,1183.8 1018.7,1184.0 1021.4,1183.6 1024.1,1181.5 1026.8,1179.9 1029.8,1179.4 1032.8,1180.8 1035.9,1182.4 1038.9,1181.9 1042.0,1176.6 1045.0,1173.8 1048.4,1175.8 1051.7,1173.9 1055.1,1175.9 1058.3,1175.0 1061.6,1171.1 1064.8,1172.2 1068.1,1168.8 1071.3,1167.8 1074.3,1162.9 1077.3,1156.2 1080.4,1153.2 1083.4,1147.6 1086.8,1150.5 1090.1,1149.6 1093.5,1151.6 1096.5,1151.2 1099.5,1147.4 1102.6,1145.5 1105.6,1145.5 1108.7,1150.1 1111.7,1153.6 1115.1,1152.9 1118.4,1154.3 1121.8,1153.6 1125.9,1141.5 1129.4,1139.6 1133.0,1139.3 1136.5,1139.4 1140.0,1139.5 1144.1,1129.4 1148.1,1132.5 1152.1,1135.4 1155.5,1135.3 1158.8,1135.6 1162.2,1137.5 1165.6,1135.6 1169.0,1135.7 1172.3,1134.0 1175.7,1134.9 1179.1,1132.6 1182.5,1133.4 1185.5,1132.8 1188.6,1131.5 1191.6,1129.9 1194.6,1129.2 1197.7,1130.3 1200.7,1129.4 1203.2,1134.1 1205.7,1137.5 1206.7,1161.7 1209.7,1159.7 1212.8,1159.9 1215.8,1157.4 1218.8,1157.6 1221.9,1157.7 1224.9,1155.7 1228.4,1157.5 1231.9,1161.3 1235.2,1161.7 1238.5,1163.5 1241.9,1162.0 1245.2,1164.1 1248.5,1163.7 1251.5,1165.3 1254.5,1168.9 1257.4,1173.5 1260.4,1175.6 1263.6,1177.6 1266.8,1176.5 1270.0,1177.7 1273.1,1178.2 1276.3,1178.5 1279.5,1180.3 1282.5,1184.5 1285.5,1190.9 1288.4,1194.9 1291.4,1199.4 1294.4,1199.9 1297.3,1198.4 1300.3,1198.2 1303.3,1197.0 1306.6,1200.0 1309.9,1201.8 1313.3,1205.5 1316.6,1207.9 1319.9,1211.3 1323.5,1212.8 1327.1,1215.5 1330.6,1219.8 1334.2,1220.8 1337.4,1222.5 1340.5,1222.8 1343.7,1221.7 1346.9,1221.1 1350.0,1221.7 1353.2,1221.7 1356.4,1224.1 1359.5,1224.1 1362.7,1223.2 1367.5,1220.8 1370.7,1225.3 1373.8,1228.0 1377.0,1231.5 1380.2,1235.8 1383.3,1239.9 1386.5,1242.2 1389.6,1242.2 1392.6,1242.3 1395.7,1240.5 1398.7,1240.5 1401.8,1239.1 1404.8,1238.2 1407.9,1237.4 1411.1,1240.4 1414.2,1241.2 1417.4,1244.5 1420.6,1244.6 1423.7,1248.8 1426.9,1249.3 1430.1,1252.0 1433.3,1252.3 1436.5,1255.8 1439.6,1256.6 1442.8,1257.9 1446.0,1261.2 1449.5,1244.6 1453.1,1230.3 1455.5,1227.7 1457.9,1225.5 1460.9,1228.1 1463.8,1227.1 1466.8,1229.2 1469.8,1230.3 1473.2,1230.1 1476.7,1230.3 1480.0,1231.1 1483.3,1234.7 1486.7,1235.4 1490.0,1236.4 1493.3,1239.8 1496.9,1242.7 1500.4,1244.2 1504.0,1243.7 1507.6,1246.9 1510.6,1248.5 1513.5,1249.9 1516.5,1252.8 1519.5,1254.1 1522.5,1254.1 1525.5,1255.9 1528.4,1254.4 1531.4,1256.5 1534.6,1261.8 1537.7,1264.9 1540.9,1268.4 1544.5,1266.9 1548.0,1266.0 1551.0,1270.0 1554.0,1272.7 1556.9,1274.3 1559.9,1277.9 1562.9,1280.1 1565.8,1285.4 1568.8,1288.3 1571.8,1292.1 1575.0,1294.9 1578.1,1294.2 1581.3,1298.0 1584.5,1299.6 1587.6,1299.2 1590.8,1301.7 1593.9,1300.9 1596.9,1302.1 1600.0,1301.0 1603.0,1301.7 1606.1,1301.8 1609.1,1301.4 1612.2,1301.7 1615.4,1303.3 1618.6,1306.5 1621.8,1311.0 1624.9,1313.7 1628.1,1314.3 1631.3,1318.3 1634.7,1319.3 1638.1,1320.2 1641.5,1319.7 1644.9,1321.1 1648.3,1320.3 1651.7,1320.3 1655.1,1320.7 1658.3,1322.0 1661.4,1324.1 1664.6,1326.0 1667.8,1328.6 1670.9,1327.5 1674.1,1330.2 1677.4,1332.5 1680.7,1337.2 1684.1,1339.4 1687.4,1341.0 1690.7,1344.5 1694.3,1340.0 1698.0,1335.1 1700.7,1329.7 1703.4,1332.4 1706.8,1331.7 1710.1,1332.6 1713.5,1332.9 1716.8,1335.1 1720.1,1336.9 1723.4,1335.2 1726.8,1336.6 1730.1,1337.7 1733.3,1339.3 1736.5,1342.6 1739.8,1342.8 1743.0,1344.7 1746.2,1348.4 1749.7,1348.2 1753.2,1350.3 1756.6,1350.4 1760.1,1350.3 1763.6,1352.5 1766.9,1352.8 1770.3,1353.7 1773.7,1356.2 1777.0,1356.5 1780.1,1362.5 1783.2,1365.6 1786.3,1372.5 1789.9,1372.7 1793.4,1369.5 1797.0,1369.9 1800.3,1371.6 1803.7,1373.7 1807.1,1374.4 1810.4,1377.9 1814.0,1382.0 1817.5,1389.3 1821.1,1393.9 1824.3,1395.3 1827.5,1396.5 1830.8,1397.9 1834.0,1398.4 1837.2,1398.0 1840.5,1398.4 1843.9,1400.5 1847.2,1401.5 1850.6,1402.0 1853.9,1402.5 1857.2,1405.5 1860.6,1407.3 1863.9,1407.3 1867.2,1410.9 1870.6,1414.9 1874.0,1416.6 1877.3,1420.7 1880.7,1421.1 1884.0,1418.8 1887.3,1418.0 1890.7,1418.0 1894.0,1419.6 1897.4,1421.1 1900.8,1421.9 1904.1,1423.4 1907.4,1426.2 1910.8,1427.8 1914.1,1428.8 1917.4,1431.8 1920.8,1432.0 1924.1,1434.1 1927.4,1434.2 1930.8,1436.5 1934.2,1434.8 1937.5,1434.7 1940.8,1437.4 1944.2,1436.7 1946.0,1440.0" stroke="#77AC30" stroke-width="3.8" fill="none" stroke-linejoin="round"/><path d="M224.0,1440.0 228.0,1436.8 232.0,1432.0 236.0,1429.3 240.0,1428.0 243.1,1427.3 246.3,1424.9 249.4,1422.3 252.8,1421.1 256.2,1420.4 259.6,1421.0 263.0,1418.2 266.4,1418.0 269.9,1415.9 273.3,1417.0 276.7,1416.1 280.2,1418.4 283.6,1416.2 287.0,1415.1 290.4,1414.1 293.8,1414.7 297.2,1412.8 300.6,1411.1 304.1,1407.3 307.5,1405.6 311.0,1408.0 314.4,1409.0 317.8,1407.3 321.2,1408.0 324.6,1407.1 328.0,1410.1 331.4,1408.7 334.9,1401.8 338.3,1398.4 340.0,1396.6 342.9,1395.0 345.8,1392.3 348.7,1392.2 351.6,1390.5 354.5,1390.5 357.4,1392.8 360.3,1389.9 363.2,1392.0 366.1,1390.5 369.0,1388.5 371.9,1386.4 374.8,1386.6 378.6,1382.2 382.5,1375.0 386.4,1379.4 390.2,1382.7 392.9,1370.6 395.6,1359.6 398.7,1361.6 401.8,1363.4 405.7,1360.1 409.6,1357.2 413.5,1358.5 417.3,1363.4 421.1,1356.9 425.0,1351.8 428.9,1355.7 432.7,1363.4 436.6,1354.1 440.5,1348.0 444.4,1350.5 448.2,1350.3 452.0,1348.3 455.9,1344.1 459.8,1343.3 463.6,1344.1 465.5,1348.0 467.9,1365.6 470.3,1387.0 474.1,1385.0 478.0,1380.0 480.8,1381.3 483.7,1385.0 486.5,1389.0 489.2,1381.9 492.0,1372.0 494.9,1369.9 497.7,1367.0 500.6,1364.8 504.0,1364.2 507.4,1363.1 510.8,1360.1 514.1,1359.8 517.5,1354.7 520.9,1354.7 524.2,1353.4 527.6,1352.7 531.0,1352.0 534.3,1349.2 537.6,1348.5 541.0,1346.6 544.0,1342.7 547.1,1341.5 550.2,1337.8 553.2,1334.5 556.2,1336.1 559.3,1333.9 562.3,1332.3 565.3,1334.3 568.4,1332.6 571.4,1332.5 574.8,1329.9 578.1,1332.1 581.5,1329.1 584.9,1326.7 588.2,1325.7 591.6,1324.8 595.0,1326.4 598.3,1324.8 601.7,1322.4 605.1,1319.6 608.4,1321.4 611.8,1319.0 615.2,1318.6 618.5,1318.9 621.9,1316.2 625.3,1315.3 628.6,1316.9 632.0,1314.3 635.4,1310.1 638.7,1304.8 642.1,1298.1 645.4,1298.9 648.7,1299.7 652.0,1298.7 655.2,1298.6 658.5,1296.6 661.8,1298.2 665.1,1299.0 668.4,1297.1 671.5,1290.8 674.5,1284.0 677.2,1286.9 679.9,1286.7 682.6,1290.0 685.6,1287.2 688.7,1284.7 691.7,1282.8 694.7,1279.3 697.8,1275.4 700.8,1273.8 704.2,1277.8 707.5,1277.8 710.9,1279.9 712.5,1280.0 715.2,1309.3 718.2,1309.0 721.2,1313.1 724.3,1312.4 727.3,1316.0 730.3,1315.4 733.0,1315.6 735.7,1320.5 738.4,1321.5 741.1,1316.2 743.8,1310.2 746.5,1303.3 749.9,1299.8 753.2,1300.0 756.6,1298.3 760.0,1295.8 763.3,1293.2 766.7,1293.2 769.8,1292.5 773.0,1290.4 776.1,1291.7 779.3,1287.6 782.4,1287.1 785.6,1287.0 788.7,1283.8 791.9,1282.7 795.0,1283.0 798.0,1280.7 801.1,1283.1 804.1,1282.1 807.1,1278.8 810.2,1278.8 813.2,1279.0 816.2,1276.3 819.3,1270.5 822.3,1267.1 825.3,1264.3 828.4,1263.3 831.4,1258.8 834.8,1256.1 838.1,1256.4 841.5,1252.4 844.9,1252.6 848.2,1251.1 851.6,1248.7 855.0,1249.3 858.4,1247.4 861.7,1248.6 865.1,1247.7 868.5,1248.0 871.9,1248.0 875.2,1250.3 878.6,1247.4 882.0,1248.7 885.4,1243.5 888.7,1240.4 892.1,1234.5 895.5,1233.3 898.8,1236.5 902.2,1237.5 905.6,1236.8 908.9,1238.5 912.3,1237.1 915.7,1238.8 919.0,1240.1 922.4,1238.6 925.8,1234.5 929.1,1230.3 932.5,1226.4 936.0,1226.2 939.6,1223.2 943.2,1220.4 946.7,1218.4 950.1,1220.0 953.4,1223.3 956.8,1224.4 959.5,1224.0 961.1,1281.0 964.7,1280.8 968.2,1276.9 971.2,1269.9 974.3,1262.8 977.7,1264.7 981.0,1266.9 984.4,1268.9 986.4,1258.7 989.8,1254.8 993.1,1256.0 996.5,1253.5 999.9,1251.1 1003.2,1249.4 1006.6,1246.6 1009.6,1248.1 1012.7,1246.8 1015.7,1247.6 1018.8,1246.6 1021.8,1248.1 1024.8,1248.7 1027.9,1248.6 1030.9,1248.6 1034.0,1246.5 1037.2,1245.9 1040.3,1244.1 1043.5,1244.7 1046.6,1244.4 1049.8,1242.6 1052.9,1243.0 1056.1,1240.9 1059.2,1240.5 1063.2,1236.4 1067.2,1232.5 1070.2,1231.6 1073.3,1233.1 1076.3,1232.1 1079.3,1232.4 1082.4,1233.5 1085.4,1234.5 1088.5,1234.3 1091.5,1234.5 1094.7,1233.4 1098.0,1234.8 1101.2,1235.3 1104.5,1233.4 1107.7,1234.5 1110.7,1232.0 1113.8,1233.9 1116.8,1230.8 1119.8,1230.7 1122.9,1229.4 1125.9,1228.4 1129.9,1232.5 1134.0,1210.2 1137.0,1210.2 1140.0,1209.5 1143.0,1208.8 1146.1,1211.0 1149.1,1210.9 1152.1,1210.2 1154.2,1218.3 1157.2,1219.0 1160.3,1216.3 1163.3,1216.7 1166.3,1214.2 1169.4,1215.2 1172.4,1212.2 1175.6,1208.4 1178.8,1206.6 1182.1,1206.0 1185.3,1202.2 1188.5,1200.1 1192.0,1200.9 1195.6,1202.6 1199.2,1200.5 1202.7,1202.1 1205.7,1222.4 1208.7,1208.2 1212.1,1205.1 1215.4,1203.6 1218.8,1204.2 1222.1,1205.2 1225.3,1207.1 1228.6,1204.9 1231.9,1206.5 1234.9,1209.5 1237.8,1212.2 1240.8,1215.4 1243.8,1218.4 1247.4,1222.1 1250.9,1224.7 1254.5,1225.9 1258.1,1227.9 1261.6,1227.2 1265.2,1228.3 1268.8,1225.9 1272.3,1225.5 1275.5,1227.5 1278.7,1231.0 1281.8,1234.5 1285.0,1235.6 1288.2,1240.4 1291.4,1242.2 1294.4,1240.5 1297.3,1238.0 1300.3,1239.4 1303.3,1237.4 1306.6,1243.2 1309.9,1247.6 1313.3,1252.2 1316.6,1252.7 1319.9,1258.8 1323.5,1263.1 1327.1,1265.2 1330.6,1267.6 1334.2,1268.4 1337.4,1267.6 1340.5,1271.5 1343.7,1270.7 1346.9,1274.7 1350.0,1273.4 1353.2,1275.5 1356.3,1273.7 1359.3,1275.8 1362.4,1276.3 1365.4,1275.6 1368.5,1275.1 1371.5,1273.8 1374.6,1275.5 1377.9,1277.8 1381.3,1276.4 1384.6,1280.1 1388.0,1279.6 1391.3,1282.6 1394.5,1282.0 1397.6,1282.1 1400.8,1280.4 1404.0,1282.0 1407.1,1279.6 1410.3,1280.2 1413.6,1284.0 1416.9,1284.5 1420.3,1288.1 1423.6,1289.5 1426.9,1292.1 1430.5,1293.8 1434.1,1295.3 1437.6,1299.7 1441.2,1301.7 1444.4,1297.5 1447.5,1296.8 1450.7,1294.5 1454.3,1258.8 1457.9,1256.9 1461.4,1254.8 1465.0,1254.1 1468.5,1260.3 1472.1,1268.4 1476.0,1258.0 1479.9,1266.7 1483.8,1275.5 1487.4,1280.6 1490.9,1283.8 1494.5,1285.5 1498.1,1289.8 1501.4,1290.6 1504.7,1291.2 1508.1,1292.1 1511.4,1292.1 1514.7,1292.1 1518.0,1292.3 1521.4,1294.5 1524.7,1299.0 1528.1,1298.8 1531.4,1301.7 1534.4,1303.1 1537.3,1302.3 1540.3,1305.5 1543.3,1306.4 1546.6,1307.0 1549.9,1307.4 1553.3,1308.7 1556.6,1311.0 1559.9,1313.5 1563.1,1314.4 1566.2,1316.1 1569.4,1314.0 1572.6,1316.7 1575.7,1316.8 1578.9,1318.3 1582.3,1319.4 1585.7,1320.5 1589.1,1318.7 1592.5,1320.0 1595.9,1323.2 1599.3,1323.1 1602.7,1323.1 1605.9,1322.6 1609.0,1324.8 1612.2,1324.9 1615.4,1324.9 1618.5,1326.6 1621.7,1327.8 1626.5,1346.9 1629.9,1347.0 1633.3,1347.5 1636.7,1348.4 1640.1,1346.0 1643.5,1348.9 1646.9,1346.4 1650.3,1346.9 1653.3,1350.4 1656.2,1352.4 1659.2,1355.5 1662.2,1358.7 1665.8,1355.9 1669.3,1351.6 1672.5,1355.7 1675.7,1356.2 1678.8,1359.2 1682.0,1363.7 1685.2,1366.7 1688.4,1370.6 1691.6,1368.0 1694.7,1367.6 1697.9,1363.5 1702.0,1333.7 1706.0,1334.3 1710.0,1336.4 1713.1,1338.9 1716.3,1343.3 1719.4,1347.1 1723.0,1344.2 1726.5,1342.3 1730.1,1340.4 1733.3,1343.2 1736.5,1344.2 1739.8,1349.5 1743.0,1351.7 1746.2,1353.8 1749.7,1354.8 1753.2,1353.6 1756.6,1352.5 1760.1,1354.8 1763.6,1353.8 1766.9,1356.6 1770.3,1358.0 1773.7,1358.7 1777.0,1357.6 1780.3,1359.6 1783.7,1361.8 1787.0,1363.5 1790.4,1361.8 1793.7,1363.6 1797.0,1364.9 1800.4,1367.5 1803.7,1367.2 1807.0,1366.4 1810.4,1368.5 1813.8,1371.1 1817.1,1369.7 1820.5,1372.0 1823.8,1373.9 1827.2,1375.5 1830.5,1375.1 1833.8,1376.9 1837.2,1375.5 1840.6,1378.1 1843.9,1377.9 1847.2,1377.9 1850.6,1381.1 1853.9,1383.1 1857.2,1381.5 1860.6,1383.7 1863.9,1385.9 1867.2,1389.2 1870.6,1395.5 1874.0,1396.3 1877.3,1402.0 1880.7,1402.3 1884.0,1405.3 1887.3,1402.3 1890.7,1404.6 1894.0,1407.1 1897.4,1404.2 1900.8,1406.8 1904.1,1407.3 1907.4,1407.8 1910.8,1409.4 1914.2,1408.5 1917.5,1410.0 1920.8,1411.9 1924.2,1415.5 1927.5,1414.7 1930.8,1418.0 1934.2,1420.3 1937.5,1417.7 1940.8,1418.7 1944.2,1420.7 1946.0,1440.0" stroke="#4DBEEE" stroke-width="3.8" fill="none" stroke-linejoin="round"/></g>
<rect x="223.8" y="41.0" width="1776.5" height="1400.5" fill="none" stroke="#404040" stroke-width="2.6"/><path d="M223.8 1441.5h19.5M2000.3 1441.5h-17.5M223.8 1301.5h19.5M2000.3 1301.5h-17.5M223.8 1161.4h19.5M2000.3 1161.4h-17.5M223.8 1021.4h19.5M2000.3 1021.4h-17.5M223.8 881.3h19.5M2000.3 881.3h-17.5M223.8 741.2h19.5M2000.3 741.2h-17.5M223.8 601.2h19.5M2000.3 601.2h-17.5M223.8 461.1h19.5M2000.3 461.1h-17.5M223.8 321.1h19.5M2000.3 321.1h-17.5M223.8 181.0h19.5M2000.3 181.0h-17.5M223.8 41.0h19.5M2000.3 41.0h-17.5M813.3 1441.5v-18M813.3 41.0v18M1406.4 1441.5v-18M1406.4 41.0v18" stroke="#404040" stroke-width="2.6" fill="none"/>
<g fill="#262626"><text x="50" y="200" transform="translate(97.30,-68.66) scale(0.7322,0.7221)" style="font-family:'Liberation Serif',serif;font-size:100px;" stroke="#fff" stroke-width="1.24">10</text><text x="50" y="200" transform="translate(128.21,197.17) scale(0.7238,0.7284)" style="font-family:'Liberation Serif',serif;font-size:100px;" stroke="#fff" stroke-width="1.24">8</text><text x="50" y="200" transform="translate(128.92,475.07) scale(0.7070,0.7313)" style="font-family:'Liberation Serif',serif;font-size:100px;" stroke="#fff" stroke-width="1.25">6</text><text x="50" y="200" transform="translate(128.69,753.57) scale(0.7022,0.7462)" style="font-family:'Liberation Serif',serif;font-size:100px;" stroke="#fff" stroke-width="1.24">4</text><text x="50" y="200" transform="translate(123.44,1030.84) scale(0.7825,0.7523)" style="font-family:'Liberation Serif',serif;font-size:100px;" stroke="#fff" stroke-width="1.17">2</text><text x="50" y="200" transform="translate(127.79,1316.28) scale(0.7262,0.7164)" style="font-family:'Liberation Serif',serif;font-size:100px;" stroke="#fff" stroke-width="1.25">0</text><text x="50" y="200" transform="translate(168.14,1369.30) scale(0.7381,0.7015)" style="font-family:'Liberation Serif',serif;font-size:100px;" stroke="#fff" stroke-width="1.25">0</text><text x="50" y="200" transform="translate(736.93,1366.28) scale(0.7333,0.7239)" style="font-family:'Liberation Serif',serif;font-size:100px;" stroke="#fff" stroke-width="1.24">50</text><text x="50" y="200" transform="translate(1313.66,1369.41) scale(0.6956,0.7059)" style="font-family:'Liberation Serif',serif;font-size:100px;" stroke="#fff" stroke-width="1.28">100</text><text x="50" y="200" transform="translate(1897.37,1367.43) scale(0.7022,0.7132)" style="font-family:'Liberation Serif',serif;font-size:100px;" stroke="#fff" stroke-width="1.27">150</text><text x="50" y="200" transform="translate(1032.28,1471.70) scale(0.7055,0.8552)" style="font-family:'Liberation Serif',serif;font-size:100px;font-weight:bold;font-style:italic;" stroke="#fff" stroke-width="1.15">y</text><text x="50" y="200" transform="translate(1086.38,1486.39) scale(0.7077,0.7733)" style="font-family:'Liberation Serif',serif;font-size:100px;" stroke="#fff" stroke-width="1.22">(</text><text x="50" y="200" transform="translate(1101.86,1487.28) scale(0.8566,0.7681)" style="font-family:'Liberation Serif',serif;font-size:100px;" stroke="#fff" stroke-width="1.11">mm</text><text x="50" y="200" transform="translate(1241.27,1486.39) scale(0.7308,0.7733)" style="font-family:'Liberation Serif',serif;font-size:100px;" stroke="#fff" stroke-width="1.20">)</text><text x="50" y="200" transform="translate(86.60,1002.40) rotate(-90) scale(0.7156,0.8138) translate(-49,-200)" style="font-family:'Liberation Serif',serif;font-size:100px;font-weight:bold;font-style:italic;" stroke="#fff" stroke-width="1.18">B</text><text x="50" y="200" transform="translate(104.50,930.00) rotate(-90) scale(0.8286,0.7944) translate(-54,-221)" style="font-family:'Liberation Serif',serif;font-size:100px;" stroke="#fff" stroke-width="1.11">(arb. unit)</text><text x="50" y="200" transform="translate(1475.43,20.17) scale(0.7310,0.7101)" style="font-family:'Liberation Serif',serif;font-size:100px;font-style:italic;" stroke="#fff" stroke-width="1.25">h</text><text x="50" y="200" transform="translate(1527.89,47.96) scale(0.6894,0.5600)" style="font-family:'Liberation Serif',serif;font-size:100px;" stroke="#262626" stroke-width="0.64">=</text><text x="50" y="200" transform="translate(1596.62,20.49) scale(0.6940,0.7060)" style="font-family:'Liberation Serif',serif;font-size:100px;" stroke="#fff" stroke-width="1.29">0.5</text><text x="50" y="200" transform="translate(1697.39,20.50) scale(0.7559,0.7085)" style="font-family:'Liberation Serif',serif;font-size:100px;" stroke="#fff" stroke-width="1.23">mm</text><text x="50" y="200" transform="translate(1475.43,107.97) scale(0.7310,0.7101)" style="font-family:'Liberation Serif',serif;font-size:100px;font-style:italic;" stroke="#fff" stroke-width="1.25">h</text><text x="50" y="200" transform="translate(1527.89,135.76) scale(0.6894,0.5600)" style="font-family:'Liberation Serif',serif;font-size:100px;" stroke="#262626" stroke-width="0.64">=</text><text x="50" y="200" transform="translate(1613.26,108.29) scale(0.6989,0.7060)" style="font-family:'Liberation Serif',serif;font-size:100px;" stroke="#fff" stroke-width="1.28">20</text><text x="50" y="200" transform="translate(1697.39,108.30) scale(0.7559,0.7085)" style="font-family:'Liberation Serif',serif;font-size:100px;" stroke="#fff" stroke-width="1.23">mm</text><text x="50" y="200" transform="translate(1475.43,195.77) scale(0.7310,0.7101)" style="font-family:'Liberation Serif',serif;font-size:100px;font-style:italic;" stroke="#fff" stroke-width="1.25">h</text><text x="50" y="200" transform="translate(1527.89,223.56) scale(0.6894,0.5600)" style="font-family:'Liberation Serif',serif;font-size:100px;" stroke="#262626" stroke-width="0.64">=</text><text x="50" y="200" transform="translate(1615.43,196.09) scale(0.6840,0.7060)" style="font-family:'Liberation Serif',serif;font-size:100px;" stroke="#fff" stroke-width="1.29">40</text><text x="50" y="200" transform="translate(1697.39,196.10) scale(0.7559,0.7085)" style="font-family:'Liberation Serif',serif;font-size:100px;" stroke="#fff" stroke-width="1.23">mm</text><text x="50" y="200" transform="translate(1475.43,283.57) scale(0.7310,0.7101)" style="font-family:'Liberation Serif',serif;font-size:100px;font-style:italic;" stroke="#fff" stroke-width="1.25">h</text><text x="50" y="200" transform="translate(1527.89,311.36) scale(0.6894,0.5600)" style="font-family:'Liberation Serif',serif;font-size:100px;" stroke="#262626" stroke-width="0.64">=</text><text x="50" y="200" transform="translate(1614.85,283.89) scale(0.6880,0.7060)" style="font-family:'Liberation Serif',serif;font-size:100px;" stroke="#fff" stroke-width="1.29">60</text><text x="50" y="200" transform="translate(1697.39,283.90) scale(0.7559,0.7085)" style="font-family:'Liberation Serif',serif;font-size:100px;" stroke="#fff" stroke-width="1.23">mm</text><text x="50" y="200" transform="translate(1475.43,371.37) scale(0.7310,0.7101)" style="font-family:'Liberation Serif',serif;font-size:100px;font-style:italic;" stroke="#fff" stroke-width="1.25">h</text><text x="50" y="200" transform="translate(1527.89,399.16) scale(0.6894,0.5600)" style="font-family:'Liberation Serif',serif;font-size:100px;" stroke="#262626" stroke-width="0.64">=</text><text x="50" y="200" transform="translate(1614.85,371.69) scale(0.6880,0.7060)" style="font-family:'Liberation Serif',serif;font-size:100px;" stroke="#fff" stroke-width="1.29">80</text><text x="50" y="200" transform="translate(1697.39,371.70) scale(0.7559,0.7085)" style="font-family:'Liberation Serif',serif;font-size:100px;" stroke="#fff" stroke-width="1.23">mm</text><text x="50" y="200" transform="translate(1475.43,459.17) scale(0.7310,0.7101)" style="font-family:'Liberation Serif',serif;font-size:100px;font-style:italic;" stroke="#fff" stroke-width="1.25">h</text><text x="50" y="200" transform="translate(1527.89,486.96) scale(0.6894,0.5600)" style="font-family:'Liberation Serif',serif;font-size:100px;" stroke="#262626" stroke-width="0.64">=</text><text x="50" y="200" transform="translate(1579.39,461.59) scale(0.6934,0.6956)" style="font-family:'Liberation Serif',serif;font-size:100px;" stroke="#fff" stroke-width="1.30">100</text><text x="50" y="200" transform="translate(1697.39,459.50) scale(0.7559,0.7085)" style="font-family:'Liberation Serif',serif;font-size:100px;" stroke="#fff" stroke-width="1.23">mm</text></g>
<path d="M1413.4 139.6H1496.4" stroke="#0072BD" stroke-width="3.8"/><path d="M1413.4 227.4H1496.4" stroke="#D95319" stroke-width="3.8"/><path d="M1413.4 315.2H1496.4" stroke="#EDB120" stroke-width="3.8"/><path d="M1413.4 403.0H1496.4" stroke="#7E2F8E" stroke-width="3.8"/><path d="M1413.4 490.8H1496.4" stroke="#77AC30" stroke-width="3.8"/><path d="M1413.4 578.6H1496.4" stroke="#4DBEEE" stroke-width="3.8"/>
</svg></body></html>
